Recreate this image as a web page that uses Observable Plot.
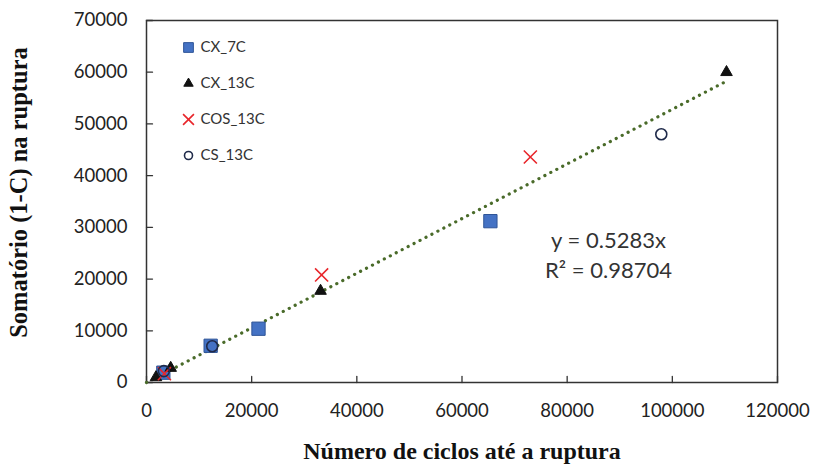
<!DOCTYPE html>
<html><head><meta charset="utf-8">
<script src="https://cdn.jsdelivr.net/npm/d3@7"></script>
<script src="https://cdn.jsdelivr.net/npm/@observablehq/plot@0.6"></script>
<style>body{margin:0;background:#fff}</style>
</head><body><div id="chart"></div>
<script>
const cx7cX = [3200, 12200, 21300, 65400];
const cx7cY = [1900, 7100, 10400, 31200];
const cx13cX = [1800, 4600, 33100, 110300];
const cx13cY = [1000, 2800, 17700, 60000];
const cos13cX = [3400, 33300, 73000];
const cos13cY = [1700, 20800, 43600];
const cs13cX = [3300, 12500, 97900];
const cs13cY = [2200, 7000, 48000];
const slope = 0.5283;
const r2 = 0.98704;
const trendX = [0, 110300];
const xTicks = [0, 20000, 40000, 60000, 80000, 100000, 120000];
const yTicks = [0, 10000, 20000, 30000, 40000, 50000, 60000, 70000];
const seriesNames = ["CX_7C", "CX_13C", "COS_13C", "CS_13C"];
const xTitle = "Número de ciclos até a ruptura";
const yTitle = "Somatório (1-C) na ruptura";

const pts = (xs, ys) => xs.map((x, i) => ({x, y: ys[i]}));
const trend = trendX.map(x => ({x, y: slope * x}));
const legend = seriesNames.map((name, i) => ({name, i}));
const symbols = [
  {symbol: "square", fill: "#4472c4", stroke: "#2f5597", r: 7.5, strokeWidth: 1},
  {symbol: "triangle", fill: "#111", stroke: "#111", r: 4.3, strokeWidth: 1},
  {symbol: "times", fill: "none", stroke: "#e8262b", r: 6, strokeWidth: 1.6},
  {symbol: "circle", fill: "none", stroke: "#1f2a4a", r: 5.5, strokeWidth: 1.6}
];
const legendR = [5.5, 3.5, 5, 4];

const font = "Lato, 'Open Sans', sans-serif";
const serif = "'Liberation Serif', 'DejaVu Serif', serif";
const chart = Plot.plot({
  width: 819, height: 471,
  marginLeft: 146, marginRight: 42, marginTop: 20, marginBottom: 89,
  style: {fontFamily: font, background: "#fff"},
  x: {domain: [0, 120000], ticks: xTicks},
  y: {domain: [0, 70000], ticks: yTicks},
  marks: [
    Plot.frame({stroke: "#333", strokeWidth: 1.5}),
    Plot.axisX({ticks: xTicks, tickFormat: d => String(d), tickSize: 0, tickPadding: 21, fontSize: 18.5, fill: "#222", label: null}),
    Plot.axisY({ticks: yTicks, tickFormat: d => String(d), tickSize: 0, tickPadding: 19, fontSize: 18.5, fill: "#222", label: null}),
    Plot.vector(xTicks, {x: d => d, y: () => 0, length: 6, rotate: 0, anchor: "start", stroke: "#333", strokeWidth: 1.3, shape: {draw(c, l) { c.moveTo(0, 0); c.lineTo(0, -l); }}}),
    Plot.vector(yTicks, {x: () => 0, y: d => d, length: 6, rotate: 90, anchor: "start", stroke: "#333", strokeWidth: 1.3, shape: {draw(c, l) { c.moveTo(0, 0); c.lineTo(0, -l); }}}),
    Plot.line(trend, {x: "x", y: "y", stroke: "#4a6b2a", strokeWidth: 3.2, strokeDasharray: "0.1 6.6", strokeLinecap: "round"}),
    Plot.dot(pts(cx7cX, cx7cY), {x: "x", y: "y", ...symbols[0]}),
    Plot.dot(pts(cx13cX, cx13cY), {x: "x", y: "y", ...symbols[1]}),
    Plot.dot(pts(cos13cX, cos13cY), {x: "x", y: "y", ...symbols[2]}),
    Plot.dot(pts(cs13cX, cs13cY), {x: "x", y: "y", ...symbols[3]}),
    ...legend.map(d => Plot.dot([d], {frameAnchor: "top-left", dx: 42, dy: 27 + d.i * 36, ...symbols[d.i], r: legendR[d.i]})),
    ...legend.map(d => Plot.text([d], {text: "name", frameAnchor: "top-left", dx: 54, dy: 27 + d.i * 36, textAnchor: "start", lineAnchor: "middle", fontSize: 15, fill: "#333"})),
    Plot.text([`y = ${slope}x`], {frameAnchor: "top-left", dx: 462, dy: 220, textAnchor: "middle", lineAnchor: "middle", fontSize: 22, fill: "#333"}),
    Plot.text([`R² = ${r2}`], {frameAnchor: "top-left", dx: 462, dy: 250, textAnchor: "middle", lineAnchor: "middle", fontSize: 22, fill: "#333"}),
    Plot.text([xTitle], {frameAnchor: "bottom", dy: 76, textAnchor: "middle", fontSize: 24, fontWeight: "bold", fontFamily: serif, fill: "#111"}),
    Plot.text([yTitle], {frameAnchor: "left", dx: -127, dy: -9, textAnchor: "middle", rotate: -90, fontSize: 24.5, fontWeight: "bold", fontFamily: serif, fill: "#111"})
  ]
});
document.getElementById("chart").appendChild(chart);
</script>
</body></html>
